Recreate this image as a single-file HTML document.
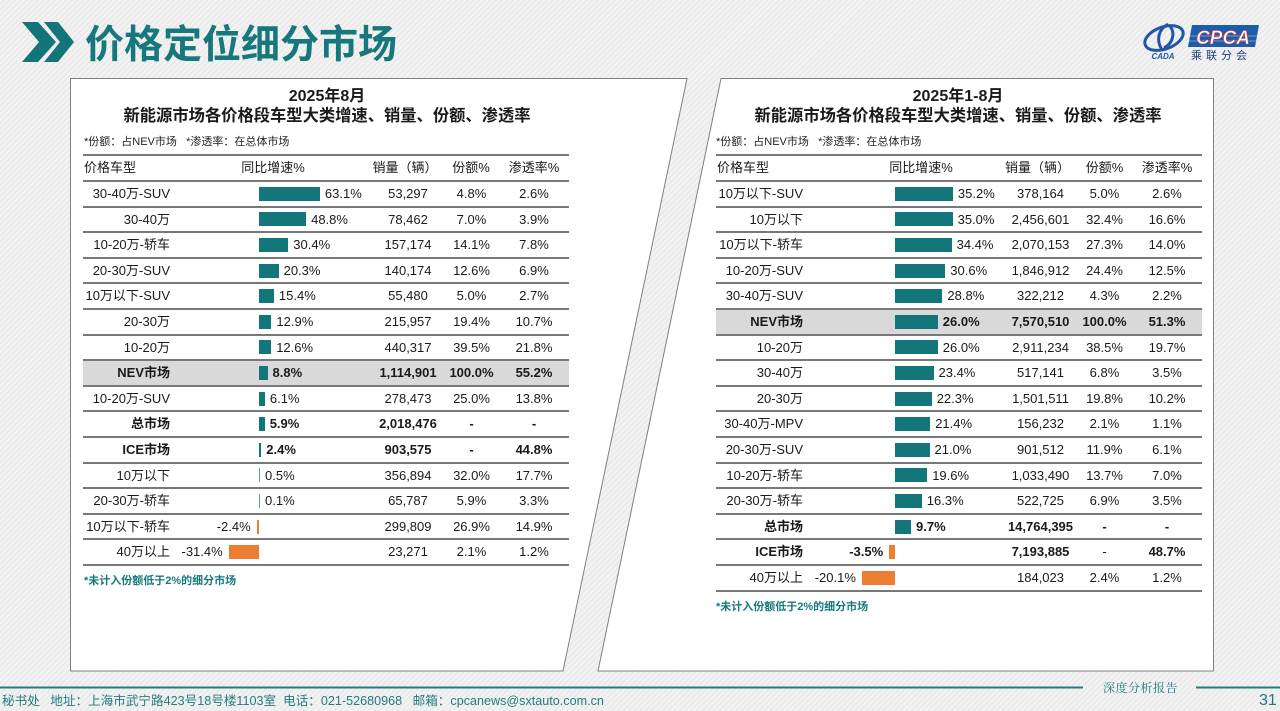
<!DOCTYPE html>
<html><head><meta charset="utf-8">
<style>
*{margin:0;padding:0;box-sizing:border-box}
html,body{width:1280px;height:711px;overflow:hidden}
body{position:relative;font-family:"Liberation Sans","Noto Sans CJK SC",sans-serif;color:#1a1a1a;
background:#efefef repeating-linear-gradient(135deg,#f3f3f3 0 2px,#eaeaea 2px 4px);}
.a{position:absolute;white-space:nowrap}
.r{position:absolute;left:0;width:1280px;height:25.6px;line-height:25.6px;font-size:13px}
.r>div{position:absolute;top:0;white-space:nowrap}
.nl{left:84px;width:86px;text-align:right}
.nr{left:716px;width:87px;text-align:right}
.r>.b{top:5.8px;height:14px;background:#12767a}
.r>.o{top:5.8px;height:14px;background:#ed7d31}
.ng{width:60px;text-align:right}
.sl{left:358px;width:100px;text-align:center}
.hl{left:431.5px;width:80px;text-align:center}
.pl{left:494px;width:80px;text-align:center}
.sr{left:990.5px;width:100px;text-align:center}
.hr{left:1064.5px;width:80px;text-align:center}
.pr{left:1127px;width:80px;text-align:center}
.bd{font-weight:bold}
.ln{position:absolute;height:2px;background:#787878}
.lL{left:83px;width:486px}
.lR{left:716px;width:486px}
.t1{font-size:16px;font-weight:bold;height:20px;line-height:20px;text-align:center}
.t2{font-size:16.3px;font-weight:bold;height:22px;line-height:22px;text-align:center}
.nt{font-size:11px;height:16px;line-height:16px;color:#222}
.fn{font-size:11px;font-weight:bold;color:#16797d;height:16px;line-height:16px}
.gb{position:absolute;height:25.6px;background:#d9d9d9}
</style></head><body>

<svg class="a" style="left:0;top:0" width="1280" height="711" viewBox="0 0 1280 711">
  <polygon points="22,22 38,22 56,42 38,62 22,62 39,42" fill="#137479"/>
  <polygon points="44,22 58,22 74,42 58,62 44,62 60,42" fill="#137479"/>
  <polygon points="70.5,78.5 687,78.5 563,671 70.5,671" fill="#fff" stroke="#808080" stroke-width="1"/>
  <polygon points="721,78.5 1213.5,78.5 1213.5,671 598,671" fill="#fff" stroke="#808080" stroke-width="1"/>
  <line x1="0" y1="687.5" x2="1083" y2="687.5" stroke="#1f7d82" stroke-width="2"/>
  <line x1="1196" y1="687.5" x2="1280" y2="687.5" stroke="#1f7d82" stroke-width="2"/>
  <ellipse cx="1164" cy="38" rx="20" ry="11" fill="none" stroke="#1f56a8" stroke-width="3" transform="rotate(-20 1164 38)"/>
  <path d="M1168,24 C1158,30 1156,40 1162,50 M1170,26 C1176,34 1172,44 1164,48" fill="none" stroke="#1f56a8" stroke-width="3"/>
  <polygon points="1192,25 1259,25 1255,47 1188,47" fill="#1d5ca8"/>
  <line x1="1190" y1="36" x2="1257" y2="36" stroke="#6f9bd0" stroke-width="1"/>
  <line x1="1189" y1="41" x2="1256" y2="41" stroke="#6f9bd0" stroke-width="1"/>
  <text x="1223" y="44" text-anchor="middle" font-family="Liberation Sans" font-style="italic" font-weight="bold" font-size="19" fill="#fff" stroke="#d9363e" stroke-width="0.6">CPCA</text>
  <text x="1163" y="59" text-anchor="middle" font-family="Liberation Sans" font-style="italic" font-weight="bold" font-size="8" fill="#1f56a8">CADA</text>
</svg>
<div class="a" style="left:85px;top:21px;height:42px;line-height:42px;font-size:39px;font-weight:bold;color:#16777c;font-family:'Noto Sans CJK SC',sans-serif">价格定位细分市场</div>
<div class="a" style="left:1191px;top:48px;height:14px;line-height:14px;font-size:11px;letter-spacing:4px;color:#1e3f80;font-family:'Noto Sans CJK SC',sans-serif">乘联分会</div>

<!-- LEFT PANEL -->
<div class="a t1" style="left:70px;width:514px;top:87px">2025年8月</div>
<div class="a t2" style="left:70px;width:514px;top:105px">新能源市场各价格段车型大类增速、销量、份额、渗透率</div>
<div class="a nt" style="left:84px;top:134px">*份额：占NEV市场&nbsp;&nbsp;&nbsp;*渗透率：在总体市场</div>

<div class="gb" style="left:83px;width:486px;top:360.2px"></div>

<div class="r" style="top:155px;height:26px;line-height:26px">
  <div style="left:84px">价格车型</div>
  <div style="left:223px;width:100px;text-align:center">同比增速%</div>
  <div style="left:355px;width:100px;text-align:center">销量（辆）</div>
  <div style="left:431px;width:80px;text-align:center">份额%</div>
  <div style="left:494px;width:80px;text-align:center">渗透率%</div>
</div>

<div class="r" style="top:181px"><div class="nl">30-40万-SUV</div><div class="b" style="left:259px;width:60.9px"></div><div style="left:324.9px">63.1%</div><div class="sl">53,297</div><div class="hl">4.8%</div><div class="pl">2.6%</div></div>
<div class="r" style="top:206.6px"><div class="nl">30-40万</div><div class="b" style="left:259px;width:47.1px"></div><div style="left:311.1px">48.8%</div><div class="sl">78,462</div><div class="hl">7.0%</div><div class="pl">3.9%</div></div>
<div class="r" style="top:232.2px"><div class="nl">10-20万-轿车</div><div class="b" style="left:259px;width:29.3px"></div><div style="left:293.3px">30.4%</div><div class="sl">157,174</div><div class="hl">14.1%</div><div class="pl">7.8%</div></div>
<div class="r" style="top:257.8px"><div class="nl">20-30万-SUV</div><div class="b" style="left:259px;width:19.6px"></div><div style="left:283.6px">20.3%</div><div class="sl">140,174</div><div class="hl">12.6%</div><div class="pl">6.9%</div></div>
<div class="r" style="top:283.4px"><div class="nl">10万以下-SUV</div><div class="b" style="left:259px;width:14.9px"></div><div style="left:278.9px">15.4%</div><div class="sl">55,480</div><div class="hl">5.0%</div><div class="pl">2.7%</div></div>
<div class="r" style="top:309px"><div class="nl">20-30万</div><div class="b" style="left:259px;width:12.4px"></div><div style="left:276.4px">12.9%</div><div class="sl">215,957</div><div class="hl">19.4%</div><div class="pl">10.7%</div></div>
<div class="r" style="top:334.6px"><div class="nl">10-20万</div><div class="b" style="left:259px;width:12.2px"></div><div style="left:276.2px">12.6%</div><div class="sl">440,317</div><div class="hl">39.5%</div><div class="pl">21.8%</div></div>
<div class="r bd" style="top:360.2px"><div class="nl">NEV市场</div><div class="b" style="left:259px;width:8.5px"></div><div style="left:272.5px">8.8%</div><div class="sl">1,114,901</div><div class="hl">100.0%</div><div class="pl">55.2%</div></div>
<div class="r" style="top:385.8px"><div class="nl">10-20万-SUV</div><div class="b" style="left:259px;width:5.9px"></div><div style="left:269.9px">6.1%</div><div class="sl">278,473</div><div class="hl">25.0%</div><div class="pl">13.8%</div></div>
<div class="r bd" style="top:411.4px"><div class="nl">总市场</div><div class="b" style="left:259px;width:5.7px"></div><div style="left:269.7px">5.9%</div><div class="sl">2,018,476</div><div class="hl">-</div><div class="pl">-</div></div>
<div class="r bd" style="top:437px"><div class="nl">ICE市场</div><div class="b" style="left:259px;width:2.3px"></div><div style="left:266.3px">2.4%</div><div class="sl">903,575</div><div class="hl">-</div><div class="pl">44.8%</div></div>
<div class="r" style="top:462.6px"><div class="nl">10万以下</div><div class="b" style="left:259px;width:1px;background:#5e9a9d"></div><div style="left:265px">0.5%</div><div class="sl">356,894</div><div class="hl">32.0%</div><div class="pl">17.7%</div></div>
<div class="r" style="top:488.2px"><div class="nl">20-30万-轿车</div><div class="b" style="left:259px;width:1px;background:#5e9a9d"></div><div style="left:265px">0.1%</div><div class="sl">65,787</div><div class="hl">5.9%</div><div class="pl">3.3%</div></div>
<div class="r" style="top:513.8px"><div class="nl">10万以下-轿车</div><div class="o" style="left:256.7px;width:2.3px"></div><div class="ng" style="left:190.7px">-2.4%</div><div class="sl">299,809</div><div class="hl">26.9%</div><div class="pl">14.9%</div></div>
<div class="r" style="top:539.4px"><div class="nl">40万以上</div><div class="o" style="left:228.7px;width:30.3px"></div><div class="ng" style="left:162.7px">-31.4%</div><div class="sl">23,271</div><div class="hl">2.1%</div><div class="pl">1.2%</div></div>

<div class="ln lL" style="top:154px"></div>
<div class="ln lL" style="top:180px"></div>
<div class="ln lL" style="top:205.6px"></div>
<div class="ln lL" style="top:231.2px"></div>
<div class="ln lL" style="top:256.8px"></div>
<div class="ln lL" style="top:282.4px"></div>
<div class="ln lL" style="top:308px"></div>
<div class="ln lL" style="top:333.6px"></div>
<div class="ln lL" style="top:359.2px"></div>
<div class="ln lL" style="top:384.8px"></div>
<div class="ln lL" style="top:410.4px"></div>
<div class="ln lL" style="top:436px"></div>
<div class="ln lL" style="top:461.6px"></div>
<div class="ln lL" style="top:487.2px"></div>
<div class="ln lL" style="top:512.8px"></div>
<div class="ln lL" style="top:538.4px"></div>
<div class="ln lL" style="top:564px"></div>

<div class="a fn" style="left:84px;top:573px">*未计入份额低于2%的细分市场</div>

<!-- RIGHT PANEL -->
<div class="a t1" style="left:758px;width:400px;top:87px">2025年1-8月</div>
<div class="a t2" style="left:708px;width:500px;top:105px">新能源市场各价格段车型大类增速、销量、份额、渗透率</div>
<div class="a nt" style="left:716px;top:134px">*份额：占NEV市场&nbsp;&nbsp;&nbsp;*渗透率：在总体市场</div>

<div class="gb" style="left:716px;width:486px;top:309px"></div>

<div class="r" style="top:155px;height:26px;line-height:26px">
  <div style="left:717px">价格车型</div>
  <div style="left:871px;width:100px;text-align:center">同比增速%</div>
  <div style="left:987.5px;width:100px;text-align:center">销量（辆）</div>
  <div style="left:1064.5px;width:80px;text-align:center">份额%</div>
  <div style="left:1127px;width:80px;text-align:center">渗透率%</div>
</div>

<div class="r" style="top:181px"><div class="nr">10万以下-SUV</div><div class="b" style="left:895px;width:57.9px"></div><div style="left:957.9px">35.2%</div><div class="sr">378,164</div><div class="hr">5.0%</div><div class="pr">2.6%</div></div>
<div class="r" style="top:206.6px"><div class="nr">10万以下</div><div class="b" style="left:895px;width:57.6px"></div><div style="left:957.6px">35.0%</div><div class="sr">2,456,601</div><div class="hr">32.4%</div><div class="pr">16.6%</div></div>
<div class="r" style="top:232.2px"><div class="nr">10万以下-轿车</div><div class="b" style="left:895px;width:56.6px"></div><div style="left:956.6px">34.4%</div><div class="sr">2,070,153</div><div class="hr">27.3%</div><div class="pr">14.0%</div></div>
<div class="r" style="top:257.8px"><div class="nr">10-20万-SUV</div><div class="b" style="left:895px;width:50.3px"></div><div style="left:950.3px">30.6%</div><div class="sr">1,846,912</div><div class="hr">24.4%</div><div class="pr">12.5%</div></div>
<div class="r" style="top:283.4px"><div class="nr">30-40万-SUV</div><div class="b" style="left:895px;width:47.4px"></div><div style="left:947.4px">28.8%</div><div class="sr">322,212</div><div class="hr">4.3%</div><div class="pr">2.2%</div></div>
<div class="r bd" style="top:309px"><div class="nr">NEV市场</div><div class="b" style="left:895px;width:42.8px"></div><div style="left:942.8px">26.0%</div><div class="sr">7,570,510</div><div class="hr">100.0%</div><div class="pr">51.3%</div></div>
<div class="r" style="top:334.6px"><div class="nr">10-20万</div><div class="b" style="left:895px;width:42.8px"></div><div style="left:942.8px">26.0%</div><div class="sr">2,911,234</div><div class="hr">38.5%</div><div class="pr">19.7%</div></div>
<div class="r" style="top:360.2px"><div class="nr">30-40万</div><div class="b" style="left:895px;width:38.5px"></div><div style="left:938.5px">23.4%</div><div class="sr">517,141</div><div class="hr">6.8%</div><div class="pr">3.5%</div></div>
<div class="r" style="top:385.8px"><div class="nr">20-30万</div><div class="b" style="left:895px;width:36.7px"></div><div style="left:936.7px">22.3%</div><div class="sr">1,501,511</div><div class="hr">19.8%</div><div class="pr">10.2%</div></div>
<div class="r" style="top:411.4px"><div class="nr">30-40万-MPV</div><div class="b" style="left:895px;width:35.2px"></div><div style="left:935.2px">21.4%</div><div class="sr">156,232</div><div class="hr">2.1%</div><div class="pr">1.1%</div></div>
<div class="r" style="top:437px"><div class="nr">20-30万-SUV</div><div class="b" style="left:895px;width:34.5px"></div><div style="left:934.5px">21.0%</div><div class="sr">901,512</div><div class="hr">11.9%</div><div class="pr">6.1%</div></div>
<div class="r" style="top:462.6px"><div class="nr">10-20万-轿车</div><div class="b" style="left:895px;width:32.2px"></div><div style="left:932.2px">19.6%</div><div class="sr">1,033,490</div><div class="hr">13.7%</div><div class="pr">7.0%</div></div>
<div class="r" style="top:488.2px"><div class="nr">20-30万-轿车</div><div class="b" style="left:895px;width:26.8px"></div><div style="left:926.8px">16.3%</div><div class="sr">522,725</div><div class="hr">6.9%</div><div class="pr">3.5%</div></div>
<div class="r bd" style="top:513.8px"><div class="nr">总市场</div><div class="b" style="left:895px;width:16px"></div><div style="left:916px">9.7%</div><div class="sr">14,764,395</div><div class="hr">-</div><div class="pr">-</div></div>
<div class="r bd" style="top:539.4px"><div class="nr">ICE市场</div><div class="o" style="left:889.2px;width:5.8px"></div><div class="ng" style="left:823.2px">-3.5%</div><div class="sr">7,193,885</div><div class="hr" style="font-weight:normal">-</div><div class="pr">48.7%</div></div>
<div class="r" style="top:565px"><div class="nr">40万以上</div><div class="o" style="left:861.9px;width:33.1px"></div><div class="ng" style="left:795.9px">-20.1%</div><div class="sr">184,023</div><div class="hr">2.4%</div><div class="pr">1.2%</div></div>

<div class="ln lR" style="top:154px"></div>
<div class="ln lR" style="top:180px"></div>
<div class="ln lR" style="top:205.6px"></div>
<div class="ln lR" style="top:231.2px"></div>
<div class="ln lR" style="top:256.8px"></div>
<div class="ln lR" style="top:282.4px"></div>
<div class="ln lR" style="top:308px"></div>
<div class="ln lR" style="top:333.6px"></div>
<div class="ln lR" style="top:359.2px"></div>
<div class="ln lR" style="top:384.8px"></div>
<div class="ln lR" style="top:410.4px"></div>
<div class="ln lR" style="top:436px"></div>
<div class="ln lR" style="top:461.6px"></div>
<div class="ln lR" style="top:487.2px"></div>
<div class="ln lR" style="top:512.8px"></div>
<div class="ln lR" style="top:538.4px"></div>
<div class="ln lR" style="top:564px"></div>
<div class="ln lR" style="top:589.6px"></div>

<div class="a fn" style="left:716px;top:599px">*未计入份额低于2%的细分市场</div>

<!-- footer -->
<div class="a" style="left:2px;top:693px;height:17px;line-height:17px;font-size:12.6px;color:#237c82">秘书处&nbsp;&nbsp;&nbsp;地址：上海市武宁路423号18号楼1103室&nbsp;&nbsp;电话：021-52680968&nbsp;&nbsp;&nbsp;邮箱：cpcanews@sxtauto.com.cn</div>
<div class="a" style="left:1103px;top:680px;height:16px;line-height:16px;font-size:12px;letter-spacing:0.5px;color:#1f7a80;font-family:'Noto Serif CJK SC',serif">深度分析报告</div>
<div class="a" style="left:1259px;top:692px;height:18px;line-height:18px;font-size:16px;color:#1f7a80">31</div>

</body></html>
